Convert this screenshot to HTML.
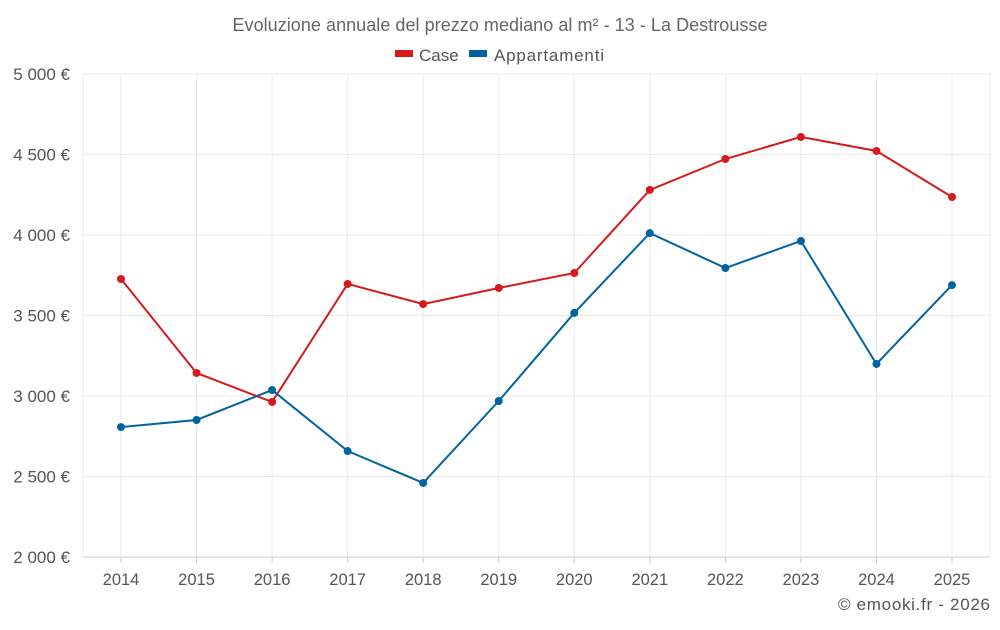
<!DOCTYPE html>
<html><head><meta charset="utf-8"><style>
body{margin:0;background:#fff;font-family:"Liberation Sans",sans-serif;}
svg text{font-family:"Liberation Sans",sans-serif;}
</style></head><body>
<svg id="chart" width="1000" height="625" viewBox="0 0 1000 625">
<text x="500" y="31" text-anchor="middle" font-size="18" fill="#666" textLength="535">Evoluzione annuale del prezzo mediano al m² - 13 - La Destrousse</text>
<g>
<g><rect x="395" y="50" width="18" height="7" fill="#d7191c"/><text x="419" y="61" font-size="17" fill="#555">Case</text></g>
<g><rect x="469" y="50" width="18" height="7" fill="#0063a0"/><text x="494" y="61" font-size="17" fill="#555" textLength="110">Appartamenti</text></g>
</g>
<g id="grid"></g>
<g id="axes"></g>
<g id="series"></g>
<text x="990" y="610" text-anchor="end" font-size="17" fill="#555" textLength="152">© emooki.fr - 2026</text>
</svg>
<script>
const years=[2014,2015,2016,2017,2018,2019,2020,2021,2022,2023,2024,2025];
const caseVals=[3727,3143,2963,3696,3571,3671,3764,4280,4472,4609,4522,4236];
const appVals=[2807,2851,3037,2658,2460,2969,3516,4012,3795,3963,3199,3689];
const yTicks=[2000,2500,3000,3500,4000,4500,5000];
const yTickLabels=["2 000 €","2 500 €","3 000 €","3 500 €","4 000 €","4 500 €","5 000 €"];
const L=83,R=990,T=74,B=557,NS="http://www.w3.org/2000/svg";
const x=i=>121+i*(952-121)/(years.length-1);
const y=v=>B-(v-2000)/3000*(B-T);
function mk(tag,attrs,parent,txt){const e=document.createElementNS(NS,tag);for(const k in attrs)e.setAttribute(k,attrs[k]);if(txt!==undefined)e.textContent=txt;parent.appendChild(e);return e;}
const grid=document.getElementById('grid'),axes=document.getElementById('axes'),series=document.getElementById('series');
yTicks.forEach((t,i)=>{
 const l=mk('line',{x1:L,x2:R,y1:y(t),y2:y(t),stroke:i===0?'#ccc':'#ebebeb'},grid);
 
 
 const tx=mk('text',{x:70,y:y(t)+6,'text-anchor':'end','font-size':17,fill:'#555'},axes,yTickLabels[i]);
 
 
});
[L,R].forEach(xx=>{const l=mk('line',{x1:xx,x2:xx,y1:T,y2:B,stroke:'#ebebeb'},grid);
 
 });
years.forEach((yr,i)=>{
 const l=mk('line',{x1:x(i),x2:x(i),y1:T,y2:B,stroke:'#ebebeb'},grid);
 
 
 const tk=mk('line',{x1:x(i),x2:x(i),y1:B,y2:B+6,stroke:'#ccc'},axes);
 
 
 const tx=mk('text',{x:x(i),y:585,'text-anchor':'middle','font-size':16.5,fill:'#555'},axes,yr);
 
 
});
function draw(vals,color,name){
 const p=mk('polyline',{points:vals.map((v,i)=>x(i)+','+y(v)).join(' '),fill:'none',stroke:color,'stroke-width':2},series);
 
 
 vals.forEach((v,i)=>{const c=mk('circle',{cx:x(i),cy:y(v),r:4,fill:color},series);
  
  });
}
draw(caseVals,'#d7191c','case');
draw(appVals,'#0063a0','appartamenti');
</script>
</body></html>
